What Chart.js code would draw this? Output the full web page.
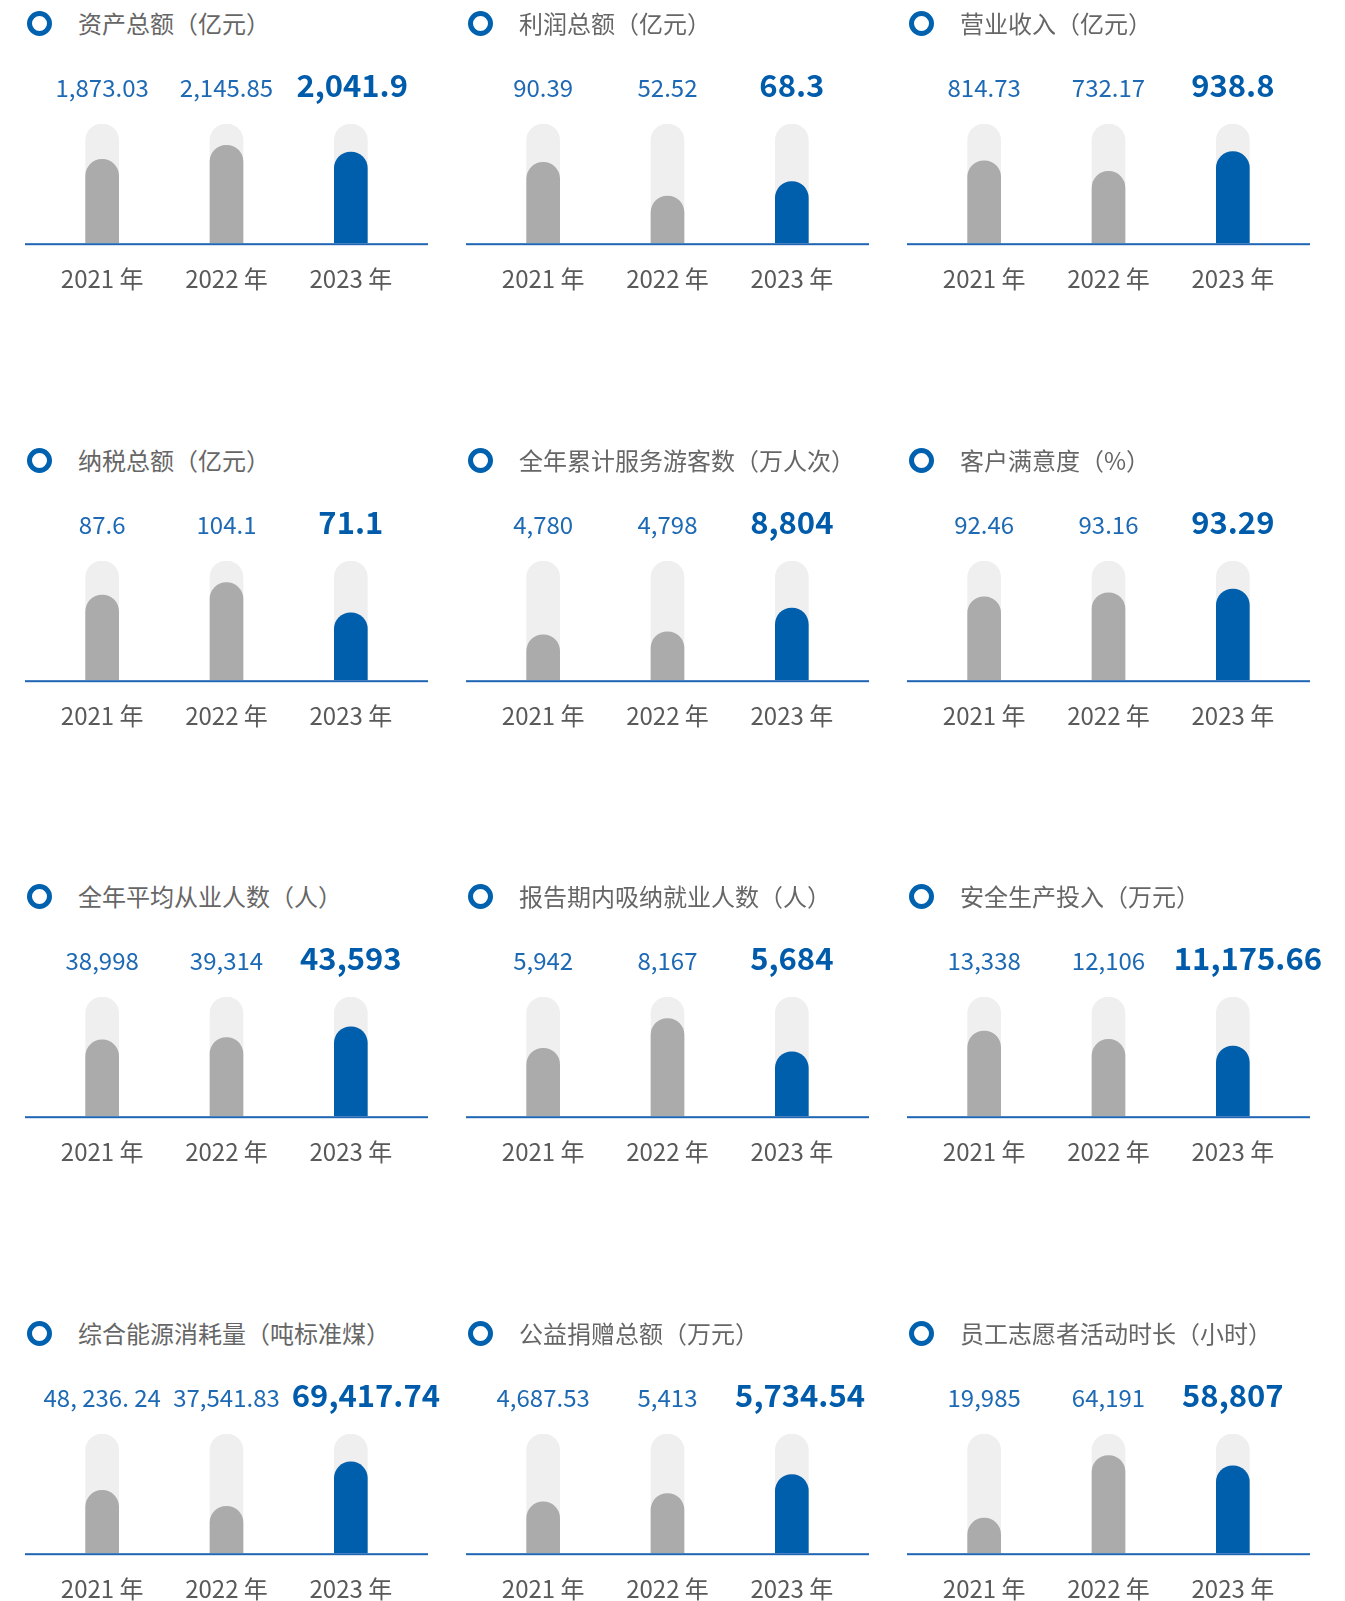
<!DOCTYPE html>
<html>
<head>
<meta charset="utf-8">
<script src="https://cdn.jsdelivr.net/npm/chart.js@4.4.1/dist/chart.umd.min.js"></script>
<style>
html, body { margin: 0; padding: 0; background: #fff; overflow: hidden; }
#board { position: relative; width: 1345px; height: 1601px; }
.panel { position: absolute; width: 441px; height: 437px; }
.ring {
	position: absolute; left: 27px; top: 11px; width: 25px; height: 25px;
	box-sizing: border-box; border: 5px solid #0061ae; border-radius: 50%;
}
.title {
	position: absolute; left: 78px; top: 5px; line-height: 30px;
	font: 24px 'Noto Sans CJK SC', sans-serif; color: #666; white-space: nowrap;
}
.panel canvas { position: absolute; left: 25px; top: 68px; }
</style>
</head>
<body>
<div id="board"></div>
<script>
// categories shared by every panel
const years = ['2021 年', '2022 年', '2023 年']

// panel titles, row by row
const titles = [
	'资产总额（亿元）', '利润总额（亿元）', '营业收入（亿元）',
	'纳税总额（亿元）', '全年累计服务游客数（万人次）', '客户满意度（%）',
	'全年平均从业人数（人）', '报告期内吸纳就业人数（人）', '安全生产投入（万元）',
	'综合能源消耗量（吨标准煤）', '公益捐赠总额（万元）', '员工志愿者活动时长（小时）',
]

// value labels printed above the bars
const valueLabels = [
	['1,873.03', '2,145.85', '2,041.9'],
	['90.39', '52.52', '68.3'],
	['814.73', '732.17', '938.8'],
	['87.6', '104.1', '71.1'],
	['4,780', '4,798', '8,804'],
	['92.46', '93.16', '93.29'],
	['38,998', '39,314', '43,593'],
	['5,942', '8,167', '5,684'],
	['13,338', '12,106', '11,175.66'],
	['48, 236. 24', '37,541.83', '69,417.74'],
	['4,687.53', '5,413', '5,734.54'],
	['19,985', '64,191', '58,807'],
]

// bar fill as percent of the grey track
const barLevels = [
	[70.3, 82.2, 76.5],
	[67.8, 39.5, 51.7],
	[69.2, 60.2, 76.8],
	[71.4, 81.8, 56.6],
	[38.1, 40.6, 60.5],
	[70.0, 73.4, 76.5],
	[64, 66, 75],
	[57, 82, 54],
	[71.4, 64.4, 58.8],
	[52.7, 39.4, 76.6],
	[43, 50, 66],
	[29.4, 82, 73.4],
]

const trackLevel = [100, 100, 100]

const FONT = "'Noto Sans CJK SC', sans-serif"

// baseline and numbers above the bars
const decorations = {
	id: 'decorations',
	afterDatasetsDraw(chart, args, opts) {
		const { ctx, chartArea } = chart
		ctx.save()
		// the blue baseline runs a bit past the bars on both sides
		ctx.fillStyle = '#1f65b3'
		ctx.fillRect(0, chartArea.bottom, chartArea.right + chartArea.left, 2)

		const meta = chart.getDatasetMeta(1)
		ctx.textBaseline = 'alphabetic'
		meta.data.forEach((bar, i) => {
			const text = opts.labels[i]
			const y = chartArea.bottom - 146.5
			if (i === 2) {
				ctx.font = 'bold 31px ' + FONT
				ctx.fillStyle = '#005cab'
				const w = ctx.measureText(text).width
				// long numbers lean to the right instead of staying centred
				const lean = Math.max(0, w / 2 - 54) * 0.75
				ctx.textAlign = 'center'
				ctx.fillText(text, bar.x + lean, y)
			} else {
				ctx.font = '24px ' + FONT
				ctx.fillStyle = '#1d69b4'
				ctx.textAlign = 'center'
				ctx.fillText(text, bar.x, y)
			}
		})
		ctx.restore()
	},
}

const board = document.getElementById('board')

titles.forEach((title, k) => {
	const row = Math.floor(k / 3)
	const col = k % 3
	const panel = document.createElement('div')
	panel.className = 'panel'
	panel.style.left = col * 441 + 'px'
	panel.style.top = Math.round(row * 436.7) + 'px'
	panel.innerHTML = `<div class="ring"></div><div class="title">${title}</div>`
	const canvas = document.createElement('canvas')
	canvas.width = 441
	canvas.height = 262
	panel.appendChild(canvas)
	board.appendChild(panel)

	new Chart(canvas, {
		type: 'bar',
		data: {
			labels: years,
			datasets: [
				{
					data: trackLevel,
					backgroundColor: '#efefef',
					order: 2,
				},
				{
					data: barLevels[k],
					backgroundColor: ['#aaabaa', '#aaabaa', '#005fad'],
					order: 1,
				},
			],
		},
		options: {
			responsive: false,
			animation: false,
			events: [],
			layout: { padding: { left: 15, right: 53, top: 56, bottom: 16 } },
			datasets: {
				bar: {
					grouped: false,
					barThickness: 33,
					borderRadius: 17,
					borderSkipped: 'bottom',
				},
			},
			scales: {
				x: {
					grid: { display: false, drawTicks: false },
					border: { display: false },
					ticks: {
						padding: 21,
						color: '#595959',
						font: { family: FONT, size: 24 },
					},
				},
				y: { display: false, min: 0, max: 100 },
			},
			plugins: {
				legend: { display: false },
				tooltip: { enabled: false },
				decorations: { labels: valueLabels[k] },
			},
		},
		plugins: [decorations],
	})
})
</script>
</body>
</html>
